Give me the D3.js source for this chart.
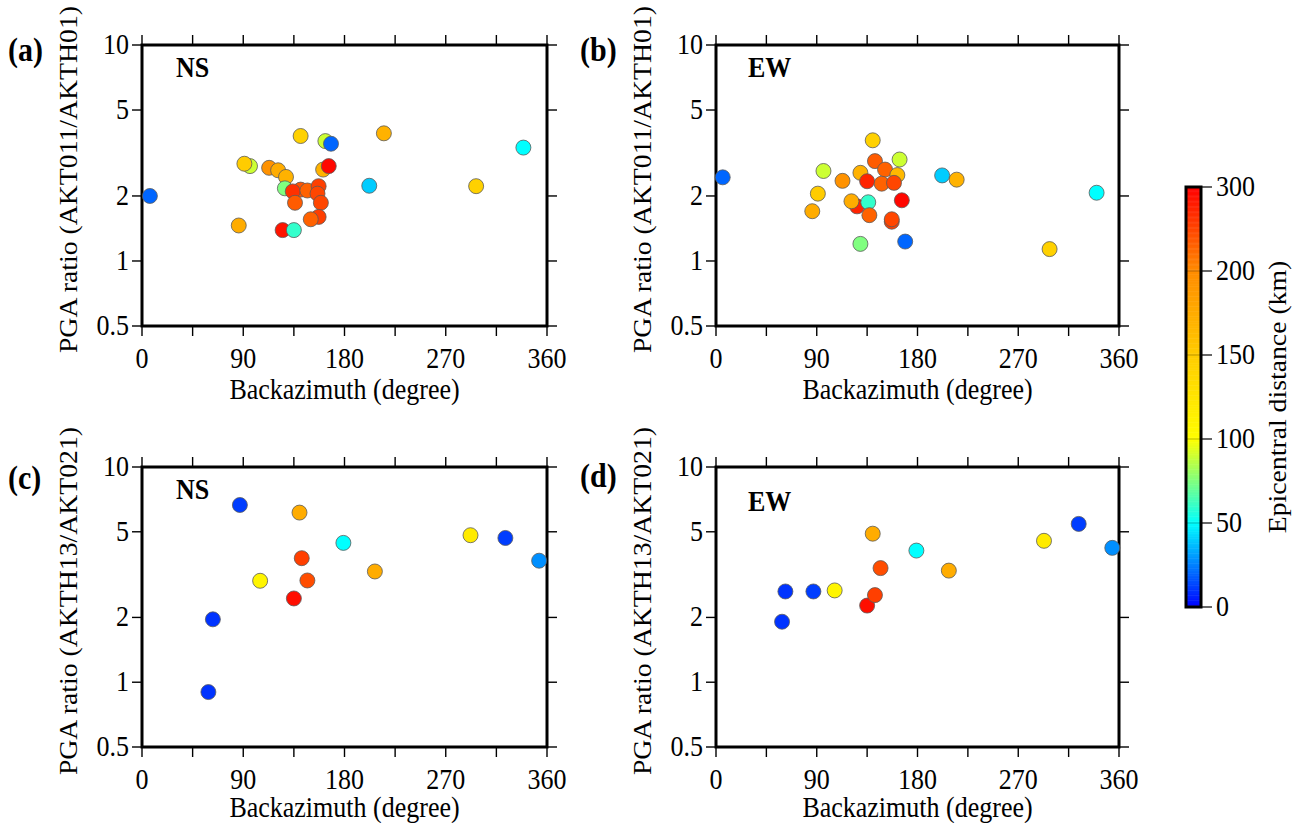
<!DOCTYPE html>
<html><head><meta charset="utf-8">
<script src="https://cdn.jsdelivr.net/npm/d3@7"></script>
<style>body{margin:0;background:#fff}</style>
</head><body><svg id="chart" width="1294" height="823"></svg>
<script>
// ---------- data ----------
const bazA   = [96, 91, 86, 113, 121, 128, 127, 141, 134, 136, 147, 157, 156, 159, 157, 150, 125, 135, 141, 163, 168, 161, 166, 7, 202, 215, 297, 339];
const ratioA = [2.75, 2.82, 1.46, 2.70, 2.63, 2.45, 2.17, 2.14, 2.10, 1.86, 2.12, 2.22, 2.05, 1.86, 1.60, 1.56, 1.39, 1.39, 3.79, 3.59, 3.49, 2.65, 2.75, 2.0, 2.23, 3.90, 2.22, 3.35];
const distA  = [90, 150, 175, 195, 175, 170, 75, 240, 265, 235, 230, 255, 250, 250, 255, 230, 285, 60, 145, 90, 20, 170, 295, 20, 40, 170, 145, 50];

const bazB   = [6, 86, 91, 96, 113, 126, 121, 136, 129, 129, 135, 137, 140, 142, 151, 148, 162, 159, 157, 157, 164, 166, 169, 202, 215, 298, 340];
const ratioB = [2.44, 1.70, 2.05, 2.61, 2.35, 1.79, 1.89, 1.87, 2.56, 1.20, 2.34, 1.63, 3.62, 2.90, 2.65, 2.28, 2.50, 2.30, 1.52, 1.56, 2.95, 1.91, 1.23, 2.49, 2.38, 1.135, 2.07];
const distB  = [20, 175, 150, 90, 195, 275, 175, 60, 170, 75, 275, 230, 145, 235, 230, 230, 165, 250, 255, 250, 90, 295, 20, 40, 170, 145, 50];

const bazC   = [59, 63, 87, 105, 135, 140, 142, 147, 179, 207, 292, 323, 353];
const ratioC = [0.90, 1.96, 6.66, 2.96, 2.45, 6.14, 3.77, 2.97, 4.44, 3.27, 4.82, 4.68, 3.67];
const distC  = [10, 10, 12, 110, 290, 175, 255, 245, 50, 175, 120, 12, 28];

const bazD   = [59, 62, 87, 106, 135, 140, 142, 147, 179, 208, 293, 324, 354];
const ratioD = [1.91, 2.64, 2.64, 2.67, 2.27, 4.90, 2.54, 3.39, 4.09, 3.30, 4.54, 5.44, 4.21];
const distD  = [10, 10, 12, 110, 290, 175, 255, 245, 50, 175, 120, 12, 28];

const xTicks = [0, 45, 90, 135, 180, 225, 270, 315, 360];
const xTickLabels = [0, 90, 180, 270, 360];
const yTicks = [0.5, 1, 2, 5, 10];
const cbTicks = [0, 50, 100, 150, 200, 300];
const cbColors = ["#0000ff", "#00ffff", "#ffff00", "#ffcc00", "#ff8c00", "#ff0000"];

const panelLabels = ["(a)", "(b)", "(c)", "(d)"];
const compLabels = ["NS", "EW", "NS", "EW"];
const yTitles = ["PGA ratio (AKT011/AKTH01)", "PGA ratio (AKT011/AKTH01)", "PGA ratio (AKTH13/AKT021)", "PGA ratio (AKTH13/AKT021)"];
const xTitle = "Backazimuth (degree)";
const cbTitle = "Epicentral distance (km)";

// ---------- layout ----------
const FONT = "Liberation Serif";
const svg = d3.select("#chart");
const SY = 1.1;   // vertical stretch of text
const FS = 26;

const color = d3.scaleLinear().domain(cbTicks).range(cbColors).clamp(true);

const panels = [
  {x0:142, x1:547, y0:45,  y1:326, bx:bazA, r:ratioA, d:distA, lx:8,   ly:61,  cx:176, cy:77,  tx:73},
  {x0:716, x1:1119, y0:45, y1:326, bx:bazB, r:ratioB, d:distB, lx:580, ly:61,  cx:748, cy:77,  tx:73},
  {x0:142, x1:547, y0:467, y1:747, bx:bazC, r:ratioC, d:distC, lx:8,   ly:489, cx:176, cy:499, tx:70},
  {x0:716, x1:1119, y0:467, y1:747, bx:bazD, r:ratioD, d:distD, lx:580, ly:487, cx:748, cy:511, tx:70}
];

function stext(g, str, x, y, opts={}) {
  const t = g.append("text")
    .attr("transform", `translate(${x},${y}) scale(1,${SY})`)
    .attr("font-family", FONT)
    .attr("font-size", opts.size || FS)
    .attr("text-anchor", opts.anchor || "start")
    .attr("fill", "#000")
    .text(str);
  if (opts.bold) t.attr("font-weight", "bold");
  return t;
}

panels.forEach((p, i) => {
  const x = d3.scaleLinear().domain([0, 360]).range([p.x0, p.x1]);
  const y = d3.scaleLog().domain([0.5, 10]).range([p.y1, p.y0]);
  const g = svg.append("g");

  // ticks on all four sides, outward
  g.selectAll(".xt").data(xTicks).join("line")
    .attr("x1", d => x(d)).attr("x2", d => x(d))
    .attr("y1", p.y1).attr("y2", p.y1 + 10)
    .attr("stroke", "#000").attr("stroke-width", 1.4);
  g.selectAll(".xtt").data(xTicks).join("line")
    .attr("x1", d => x(d)).attr("x2", d => x(d))
    .attr("y1", p.y0).attr("y2", p.y0 - 10)
    .attr("stroke", "#000").attr("stroke-width", 1.4);
  g.selectAll(".yt").data(yTicks).join("line")
    .attr("x1", p.x0 - 10).attr("x2", p.x0)
    .attr("y1", d => y(d)).attr("y2", d => y(d))
    .attr("stroke", "#000").attr("stroke-width", 1.4);
  g.selectAll(".ytr").data(yTicks).join("line")
    .attr("x1", p.x1).attr("x2", p.x1 + 10)
    .attr("y1", d => y(d)).attr("y2", d => y(d))
    .attr("stroke", "#000").attr("stroke-width", 1.4);

  // frame
  g.append("rect").attr("x", p.x0).attr("y", p.y0)
    .attr("width", p.x1 - p.x0).attr("height", p.y1 - p.y0)
    .attr("fill", "none").attr("stroke", "#000").attr("stroke-width", 3);

  // tick labels
  xTickLabels.forEach(v => stext(g, String(v), x(v), p.y1 + 42, {anchor: "middle"}));
  yTicks.forEach(v => stext(g, String(v), p.x0 - 13, y(v) + 9, {anchor: "end"}));

  // titles
  stext(g, xTitle, (p.x0 + p.x1) / 2, p.y1 + p.tx, {anchor: "middle"});
  g.append("text")
    .attr("transform", `translate(${p.x0 - 65},${(p.y0 + p.y1) / 2 - 6}) rotate(-90) scale(${SY * 0.97},1)`)
    .attr("font-family", FONT).attr("fill", "#000")
    .attr("font-size", FS).attr("text-anchor", "middle").text(yTitles[i]);

  stext(g, panelLabels[i], p.lx, p.ly, {bold: true, size: 30});
  stext(g, compLabels[i], p.cx, p.cy, {bold: true, size: 26});

  // points
  const pts = p.bx.map((b, k) => ({b, r: p.r[k], d: p.d[k]}));
  g.selectAll("circle").data(pts).join("circle")
    .attr("cx", d => x(d.b)).attr("cy", d => y(d.r)).attr("r", 7.5)
    .attr("fill", d => color(d.d))
    .attr("stroke", "#5a5a5a").attr("stroke-width", 0.8);
});

// ---------- colorbar ----------
const cbX0 = 1186, cbX1 = 1201;
const cb = d3.scaleLinear().domain(cbTicks).range([607, 523, 439, 355, 271, 187]);
const cg = svg.append("g");
cg.selectAll("rect.s").data(d3.range(0, 300, 1)).join("rect")
  .attr("x", cbX0).attr("width", cbX1 - cbX0)
  .attr("y", d => cb(d + 1)).attr("height", d => cb(d) - cb(d + 1) + 0.5)
  .attr("fill", d => color(d + 0.5));
cg.selectAll("line.seg").data(cbTicks.slice(1, -1)).join("line")
  .attr("x1", cbX0).attr("x2", cbX1).attr("y1", d => cb(d)).attr("y2", d => cb(d))
  .attr("stroke", "#000").attr("stroke-opacity", 0.35).attr("stroke-width", 0.8);
cg.append("rect").attr("x", cbX0).attr("y", 187).attr("width", cbX1 - cbX0).attr("height", 420)
  .attr("fill", "none").attr("stroke", "#000").attr("stroke-width", 3);
cg.selectAll("line.t").data(cbTicks).join("line")
  .attr("x1", cbX1).attr("x2", cbX1 + 11).attr("y1", d => cb(d)).attr("y2", d => cb(d))
  .attr("stroke", "#000").attr("stroke-width", 1.2);
cbTicks.forEach(v => stext(cg, String(v), 1216, cb(v) + 9));
cg.append("text")
  .attr("transform", `translate(1286,397) rotate(-90) scale(${SY * 0.97},1)`)
  .attr("font-family", FONT).attr("fill", "#000")
  .attr("font-size", FS).attr("text-anchor", "middle").text(cbTitle);
</script>
</body></html>
